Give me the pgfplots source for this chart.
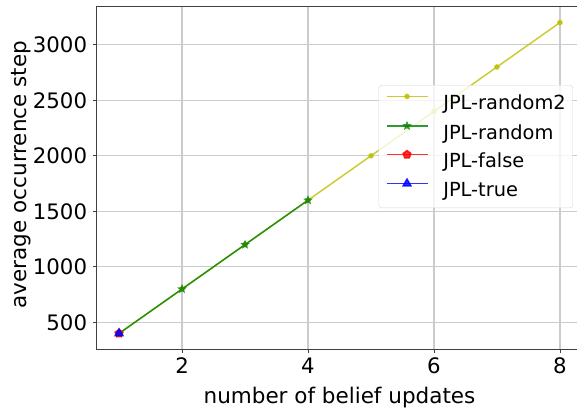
\documentclass[border=0pt]{standalone}
\usepackage{fontspec}
\setmainfont{DejaVu Sans}
\usepackage{pgfplots}
\pgfplotsset{compat=1.18}
\usetikzlibrary{plotmarks}

\definecolor{mplyellow}{rgb}{0.75,0.75,0}
\definecolor{mplgreen}{rgb}{0,0.5,0}
\definecolor{mplred}{rgb}{1,0,0}
\definecolor{mplblue}{rgb}{0,0,1}

\newcommand{\tickfont}{\fontsize{21.3}{25}\selectfont}
\newcommand{\labelfont}{\fontsize{21.5}{25}\selectfont}

% filled five-pointed star
\pgfdeclareplotmark{fstar}{%
  \pgfpathmoveto{\pgfpointpolar{90}{\pgfplotmarksize}}%
  \pgfpathlineto{\pgfpointpolar{126}{0.45\pgfplotmarksize}}%
  \pgfpathlineto{\pgfpointpolar{162}{\pgfplotmarksize}}%
  \pgfpathlineto{\pgfpointpolar{198}{0.45\pgfplotmarksize}}%
  \pgfpathlineto{\pgfpointpolar{234}{\pgfplotmarksize}}%
  \pgfpathlineto{\pgfpointpolar{270}{0.45\pgfplotmarksize}}%
  \pgfpathlineto{\pgfpointpolar{306}{\pgfplotmarksize}}%
  \pgfpathlineto{\pgfpointpolar{342}{0.45\pgfplotmarksize}}%
  \pgfpathlineto{\pgfpointpolar{18}{\pgfplotmarksize}}%
  \pgfpathlineto{\pgfpointpolar{54}{0.45\pgfplotmarksize}}%
  \pgfpathclose
  \pgfusepathqfill
}

\begin{document}
\begin{tikzpicture}
\begin{axis}[
  scale only axis, width=485pt, height=342pt,
  xmin=0.65, xmax=8.35, ymin=260, ymax=3340,
  xtick={2,4,6,8}, ytick={500,1000,1500,2000,2500,3000},
  tick align=outside, tick pos=left, major tick length=4pt,
  every tick/.style={black!75, line width=0.9pt},
  axis line style={black!75, line width=1pt},
  grid=major, major grid style={black!20, line width=1.3pt},
  /pgf/number format/assume math mode=true,
  /pgf/number format/1000 sep={},
  xticklabel={\tickfont\pgfmathprintnumber{\tick}},
  yticklabel={\tickfont\pgfmathprintnumber{\tick}},
  xticklabel style={anchor=north, inner sep=0pt, yshift=-4.3pt},
  yticklabel style={anchor=east, inner sep=0pt, xshift=-5.7pt},
  xlabel={number of belief updates},
  ylabel={average occurrence step},
  every axis x label/.style={at={(axis description cs:0.5,0)}, anchor=north,
    inner sep=0pt, yshift=-37.7pt, font=\labelfont},
  every axis y label/.style={at={(axis description cs:-0.1759,0.51)}, rotate=90,
    anchor=north, inner sep=0pt, font=\labelfont},
  legend cell align=left,
  legend image code/.code={%
    \draw[sharp corners,#1,mark=none,line width=1.6pt] (0pt,6.5pt) -- (41pt,6.5pt);
    \path[sharp corners,#1] plot coordinates {(20.5pt,6.5pt)};},
  legend style={at={(axis description cs:0.9814,0.7719)}, anchor=north east,
    font=\fontsize{19.4}{23}\selectfont, draw=black!20, rounded corners=3pt,
    fill=white, fill opacity=0.8, draw opacity=0.8, text opacity=1,
    inner xsep=7pt, inner ysep=7pt, row sep=7.2pt, column sep=15pt,
    nodes={inner sep=0pt, text height=17.5pt, text depth=4pt}},
]
\addplot[mplyellow, opacity=0.8, line width=1.5pt, mark=*, mark size=2pt]
  coordinates {(1,400) (2,800) (3,1200) (4,1600) (5,2000) (6,2400) (7,2800) (8,3200)};
\addlegendentry{JPL-random2}
\addplot[mplgreen, opacity=0.8, line width=1.5pt, mark=fstar, mark size=5pt]
  coordinates {(1,400) (2,800) (3,1200) (4,1600)};
\addlegendentry{JPL-random}
\addplot[mplred, opacity=0.8, line width=1.5pt, mark=pentagon*, mark size=4pt]
  coordinates {(1,400)};
\addlegendentry{JPL-false}
\addplot[mplblue, opacity=0.8, line width=1.5pt, mark=triangle*, mark size=4.5pt]
  coordinates {(1,400)};
\addlegendentry{JPL-true}
\end{axis}
\pgfresetboundingbox
\path[use as bounding box] ([xshift=-97pt,yshift=-58pt]current axis.south west)
  rectangle ([xshift=480pt,yshift=7pt]current axis.north west);
\end{tikzpicture}
\end{document}
